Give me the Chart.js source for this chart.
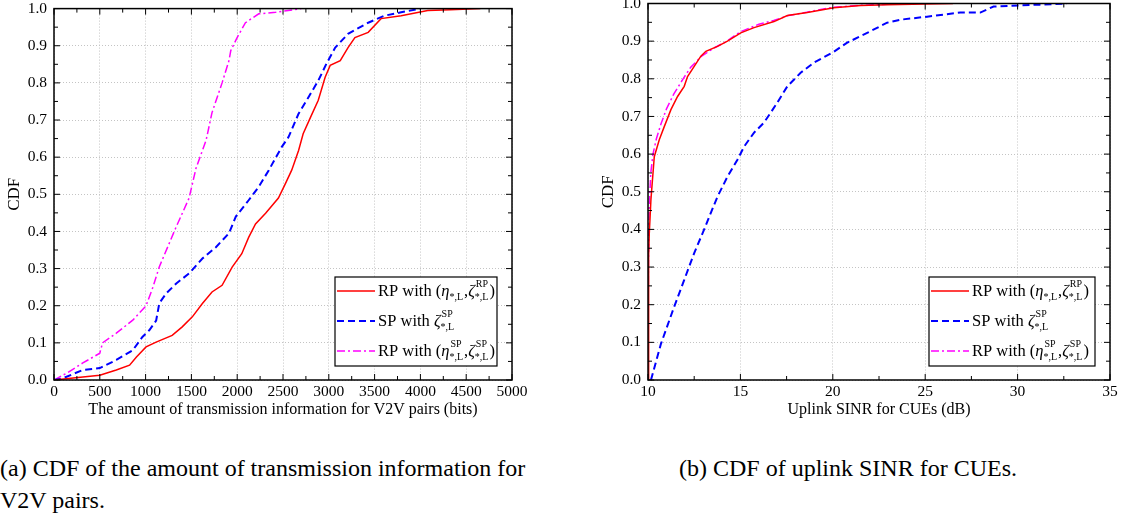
<!DOCTYPE html>
<html>
<head>
<meta charset="utf-8">
<script src="https://cdn.jsdelivr.net/npm/chart.js@4.4.0/dist/chart.umd.min.js"></script>
<style>
  body { margin:0; background:#fff; width:1126px; height:518px; position:relative; overflow:hidden; font-family:"Liberation Serif","DejaVu Serif",serif; }
  canvas { position:absolute; top:0; }
  #chartA { left:0; }
  #chartB { left:590px; }
  .cap { position:absolute; font-size:24px; color:#000; line-height:32px; white-space:nowrap; }
</style>
</head>
<body>
<canvas id="chartA" width="540" height="420"></canvas>
<canvas id="chartB" width="536" height="420"></canvas>
<div class="cap" style="left:0;top:452px;">(a) CDF of the amount of transmission information for<br>V2V pairs.</div>
<div class="cap" style="left:679px;top:452px;">(b) CDF of uplink SINR for CUEs.</div>
<script>
// (a) transmission information (bits) vs CDF
const aBitsRp = [0,315,500,680,825,900,1005,1115,1290,1400,1510,1620,1725,1835,1945,2050,2125,2200,2310,2450,2525,2595,2670,2720,2800,2885,2960,3015,3125,3210,3285,3430,3570,3790,4080,4330,4655]
const aCdfRp = [0,0.008,0.013,0.027,0.04,0.062,0.089,0.102,0.12,0.143,0.17,0.206,0.237,0.255,0.304,0.34,0.384,0.42,0.449,0.49,0.528,0.565,0.618,0.663,0.707,0.753,0.815,0.847,0.86,0.895,0.922,0.936,0.973,0.981,0.995,0.997,1.0]
const aBitsSp = [0,100,315,500,680,860,965,1040,1115,1150,1225,1335,1475,1620,1765,1910,1985,2125,2235,2345,2485,2560,2670,2775,2885,2975,3070,3210,3430,3610,3790,4005]
const aCdfSp = [0,0.005,0.027,0.032,0.054,0.08,0.116,0.134,0.16,0.207,0.233,0.26,0.287,0.327,0.357,0.395,0.44,0.484,0.52,0.565,0.627,0.654,0.717,0.76,0.806,0.852,0.895,0.932,0.962,0.981,0.99,1.0]
const aBitsRpSp = [0,150,315,500,530,680,860,1005,1080,1150,1330,1475,1550,1660,1725,1835,1910,1930,1995,2090,2235,2420,2700]
const aCdfRpSp = [0,0.02,0.046,0.072,0.10,0.126,0.161,0.20,0.25,0.305,0.41,0.49,0.57,0.645,0.72,0.80,0.86,0.887,0.92,0.962,0.986,0.99,1.0]

// (b) uplink SINR (dB) vs CDF
const bSinrRp = [10,10.02,10.05,10.07,10.16,10.34,10.61,10.88,11.24,11.6,11.96,12.14,12.5,12.86,13.13,13.76,14.3,15.02,15.74,16.82,17.54,18.62,20.06,21.5,22.94,25,26.5]
const bCdfRp = [0,0.2,0.33,0.39,0.48,0.593,0.638,0.673,0.718,0.753,0.78,0.806,0.833,0.86,0.873,0.886,0.9,0.922,0.936,0.952,0.968,0.976,0.989,0.995,0.997,0.999,1.0]
const bSinrSp = [10.16,10.7,11.42,11.96,12.5,13.04,13.4,13.76,14.3,14.84,15.2,15.74,16.28,16.64,17.0,17.54,18.26,18.98,20.06,20.78,21.86,22.94,23.66,25.1,26.9,27.98,28.7,30.14,31.2,32.66]
const bCdfSp = [0,0.096,0.195,0.266,0.337,0.4,0.444,0.487,0.54,0.585,0.62,0.657,0.684,0.71,0.737,0.78,0.816,0.843,0.872,0.896,0.922,0.949,0.957,0.965,0.976,0.976,0.992,0.995,0.997,1.0]
const bSinrRpSp = [10,10.02,10.06,10.15,10.27,10.45,10.7,11.0,11.4,11.9,12.3,12.9,13.5,14.2,15,16,16.8,17.6,18.6,20,21.5,23,24.5]
const bCdfRpSp = [0,0.3,0.45,0.55,0.6,0.64,0.68,0.72,0.76,0.8,0.83,0.86,0.88,0.898,0.925,0.945,0.955,0.968,0.977,0.99,0.995,0.998,1.0]

// legend text pieces: [text, kind] kind n=normal, i=italic, s=sup/sub stack
const legRp = [['RP with (', 'n'], ['η', 'i'], [['', '*,L'], 's'], [',', 'n'], ['ζ', 'i'], [['RP', '*,L'], 's'], [')', 'n']]
const legSp = [['SP with ', 'n'], ['ζ', 'i'], [['SP', '*,L'], 's']]
const legRpSp = [['RP with (', 'n'], ['η', 'i'], [['SP', '*,L'], 's'], [',', 'n'], ['ζ', 'i'], [['SP', '*,L'], 's'], [')', 'n']]

const FONT = '"Liberation Serif", "DejaVu Serif", serif'
Chart.defaults.font.family = FONT
Chart.defaults.color = '#000'

const pts = (xs, ys) => xs.map((v, i) => ({x: v, y: ys[i]}))

const styles = [
  {color: '#ff0000', dash: [], width: 1.5},
  {color: '#0000ff', dash: [7, 4], width: 2},
  {color: '#ff00ff', dash: [8, 3, 2, 3], width: 1.5}
]

const frameTicks = {
  id: 'frameTicks',
  afterDatasetsDraw(chart, args, opts) {
    const {ctx, chartArea: a, scales: {x, y}} = chart
    ctx.save()
    ctx.strokeStyle = '#000'
    ctx.lineWidth = 1
    const seg = (x1, y1, x2, y2) => { ctx.beginPath(); ctx.moveTo(x1, y1); ctx.lineTo(x2, y2); ctx.stroke() }
    let n = Math.round((x.max - x.min) / opts.xMinor)
    for (let i = 0; i <= n; i++) {
      const px = x.getPixelForValue(x.min + i * opts.xMinor)
      const len = i % 2 == 0 ? 6 : 4
      seg(px, a.bottom, px, a.bottom - len)
      seg(px, a.top, px, a.top + len)
    }
    n = Math.round((y.max - y.min) / opts.yMinor)
    for (let i = 0; i <= n; i++) {
      const py = y.getPixelForValue(y.min + i * opts.yMinor)
      const len = i % 2 == 0 ? 6 : 4
      seg(a.left, py, a.left + len, py)
      seg(a.right, py, a.right - len, py)
    }
    ctx.lineWidth = 1.5
    ctx.strokeRect(a.left, a.top, a.right - a.left, a.bottom - a.top)
    ctx.restore()
  }
}

function drawRich(ctx, x, base, parts) {
  parts.forEach(([t, kind]) => {
    if (kind == 's') {
      ctx.font = '10px ' + FONT
      const w = Math.max(ctx.measureText(t[0]).width, ctx.measureText(t[1]).width)
      ctx.fillText(t[0], x + 1, base - 9)
      ctx.fillText(t[1], x, base + 4)
      x += w + 1
    } else {
      ctx.font = (kind == 'i' ? 'italic ' : '') + '16.5px ' + FONT
      ctx.fillText(t, x, base)
      x += ctx.measureText(t).width
    }
  })
}

const richLegend = {
  id: 'richLegend',
  afterDraw(chart, args, opts) {
    const {ctx, chartArea: a} = chart
    const w = opts.width, h = 89
    const left = a.right - 15 - w, top = a.bottom - 14 - h
    ctx.save()
    ctx.fillStyle = '#fff'
    ctx.fillRect(left, top, w, h)
    ctx.strokeStyle = '#000'
    ctx.lineWidth = 1.2
    ctx.strokeRect(left, top, w, h)
    opts.items.forEach((parts, i) => {
      const base = top + 19 + i * 30
      const st = styles[i]
      ctx.strokeStyle = st.color
      ctx.lineWidth = st.width
      ctx.setLineDash(st.dash)
      ctx.beginPath()
      ctx.moveTo(left + 2, base - 5)
      ctx.lineTo(left + 40, base - 5)
      ctx.stroke()
      ctx.setLineDash([])
      ctx.fillStyle = '#000'
      ctx.textBaseline = 'alphabetic'
      drawRich(ctx, left + 43, base, parts)
    })
    ctx.restore()
  }
}

function makeChart(id, cfg) {
  const datasets = cfg.series.map((s, i) => ({
    label: s.label,
    data: pts(s.xs, s.ys),
    borderColor: styles[i].color,
    borderWidth: styles[i].width,
    borderDash: styles[i].dash,
    pointRadius: 0,
    tension: 0,
    fill: false
  }))
  return new Chart(document.getElementById(id), {
    type: 'line',
    data: {datasets: datasets},
    options: {
      responsive: false,
      animation: false,
      layout: {padding: {top: cfg.padTop, right: cfg.padRight, left: 0, bottom: 0}},
      scales: {
        x: {
          type: 'linear', min: cfg.xMin, max: cfg.xMax,
          afterFit: (s) => { s.height = 40; s.paddingLeft = 0; s.paddingRight = 0 },
          ticks: {stepSize: cfg.xStep, autoSkip: false, maxRotation: 0, padding: 3, font: {size: 15.5}, callback: (v) => String(v)},
          grid: {color: '#c4c4c4', lineWidth: 1, drawTicks: false},
          border: {display: false, dash: [1, 2]},
          title: {display: true, text: cfg.xTitle, font: {size: 16}, padding: {top: 0, bottom: 1}}
        },
        y: {
          min: 0, max: 1,
          afterFit: (s) => { s.width = cfg.yWidth; s.paddingTop = 0; s.paddingBottom = 0 },
          ticks: {stepSize: 0.1, padding: 7, font: {size: 15.5}, callback: (v) => v.toFixed(1)},
          grid: {color: '#c4c4c4', lineWidth: 1, drawTicks: false},
          border: {display: false, dash: [1, 2]},
          title: {display: true, text: 'CDF', font: {size: 17}, padding: {top: cfg.yTitlePad, bottom: 0}}
        }
      },
      plugins: {
        legend: {display: false},
        tooltip: {enabled: false},
        frameTicks: {xMinor: cfg.xStep / 2, yMinor: 0.05},
        richLegend: {items: [legRp, legSp, legRpSp], width: cfg.legWidth}
      }
    },
    plugins: [frameTicks, richLegend]
  })
}

makeChart('chartA', {
  xMin: 0, xMax: 5000, xStep: 500, padTop: 8.6, padRight: 28, yWidth: 54, yTitlePad: 4, legWidth: 162,
  xTitle: 'The amount of transmission information for V2V pairs (bits)',
  series: [
    {label: 'RP with (η*,L, ζ*,L RP)', xs: aBitsRp, ys: aCdfRp},
    {label: 'SP with ζ*,L SP', xs: aBitsSp, ys: aCdfSp},
    {label: 'RP with (η*,L SP, ζ*,L SP)', xs: aBitsRpSp, ys: aCdfRpSp}
  ]
})

makeChart('chartB', {
  xMin: 10, xMax: 35, xStep: 5, padTop: 3.5, padRight: 16, yWidth: 58, yTitlePad: 8, legWidth: 166,
  xTitle: 'Uplink SINR for CUEs (dB)',
  series: [
    {label: 'RP with (η*,L, ζ*,L RP)', xs: bSinrRp, ys: bCdfRp},
    {label: 'SP with ζ*,L SP', xs: bSinrSp, ys: bCdfSp},
    {label: 'RP with (η*,L SP, ζ*,L SP)', xs: bSinrRpSp, ys: bCdfRpSp}
  ]
})
</script>
</body>
</html>
